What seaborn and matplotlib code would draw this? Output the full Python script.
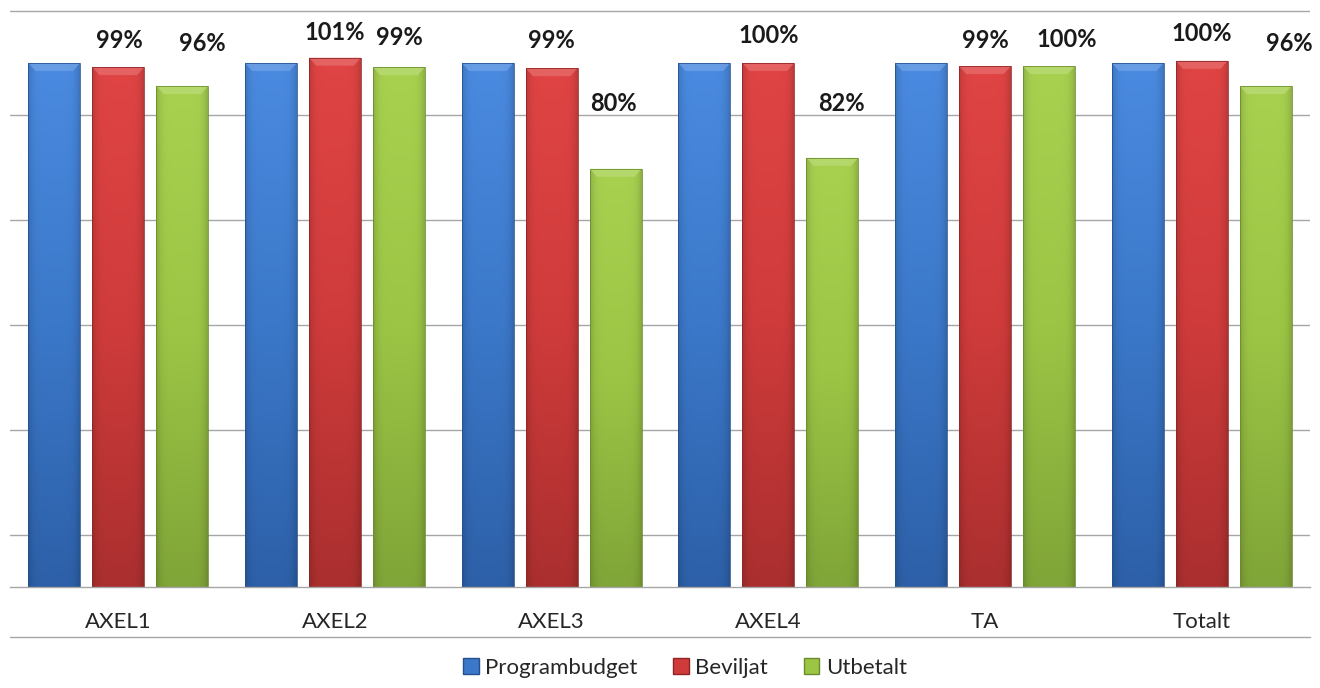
import numpy as np
import pandas as pd
import matplotlib
matplotlib.use("Agg")
import matplotlib.pyplot as plt
import seaborn as sns
from matplotlib.patches import Polygon, Patch
from matplotlib.colors import to_rgb
from matplotlib.lines import Line2D

# ---------------- data ----------------
categories = ["AXEL1", "AXEL2", "AXEL3", "AXEL4", "TA", "Totalt"]
series_names = ["Programbudget", "Beviljat", "Utbetalt"]
programbudget = [100, 100, 100, 100, 100, 100]
beviljat = [99.2, 101.0, 99.0, 100.0, 99.4, 100.4]
utbetalt = [95.6, 99.2, 79.8, 81.9, 99.4, 95.6]
beviljat_labels = ["99%", "101%", "99%", "100%", "99%", "100%"]
utbetalt_labels = ["96%", "99%", "80%", "82%", "100%", "96%"]

# ---------------- style ----------------
sns.set_theme(style="white")
plt.rcParams["font.family"] = ["Lato", "DejaVu Sans"]

base = {"Programbudget": "#3b78c9", "Beviljat": "#cf3b3b", "Utbetalt": "#9cc545"}
top_c = {"Programbudget": "#4a8ae0", "Beviljat": "#e04444", "Utbetalt": "#a8d150"}
bot_c = {"Programbudget": "#2d60a8", "Beviljat": "#ab2f2f", "Utbetalt": "#80a538"}
edge_c = {"Programbudget": "#24508e", "Beviljat": "#8e2525", "Utbetalt": "#6a8a2c"}

# manual label nudges (pixels) as placed in the original chart
bev_dx = [1, 0, 0, 0, 0, 0]
bev_dy = [27, 25, 28, 27, 26, 27]
utb_dx = [20, 0, -2, 9, 18, 24]
utb_dy = [42, 30, 65, 54, 27, 42]

df = pd.DataFrame({
    "cat": categories * 3,
    "series": sum([[s] * len(categories) for s in series_names], []),
    "val": programbudget + beviljat + utbetalt,
})

W, H = 1320, 688
fig = plt.figure(figsize=(W / 100, H / 100), dpi=100)
ax = fig.add_axes([10 / W, (H - 587) / H, 1300 / W, 577 / H])

sns.barplot(data=df, x="cat", y="val", hue="series", hue_order=series_names,
            palette=base, width=0.886, gap=0.1875, ax=ax, legend=False,
            saturation=1, errorbar=None)

ax.set_xlim(-0.5, len(categories) - 0.5)
ax.set_ylim(0, 110.1)
px_per_unit = 577 / 110.1

# gridlines
ax.set_yticks(np.arange(10, 111, 20))
ax.set_yticklabels([])
ax.yaxis.grid(True, color="#a6a6a6", lw=1)
ax.set_axisbelow(True)
ax.tick_params(axis="y", length=0)
for s in ["left", "right", "top"]:
    ax.spines[s].set_visible(False)
ax.spines["bottom"].set_color("#a6a6a6")
ax.spines["bottom"].set_linewidth(1)

# x ticks: labels at centers, marks at boundaries
ax.set_xticks(range(len(categories)))
ax.set_xticklabels(categories, fontsize=16, color="#262626")
ax.tick_params(axis="x", length=0, pad=18)
ax.set_xticks(np.arange(-0.5, len(categories)), minor=True)
ax.tick_params(axis="x", which="minor", length=6, color="#a6a6a6", width=1,
               direction="out")
ax.set_xlabel("")
ax.set_ylabel("")

# line below category labels
ax.add_line(Line2D([0, 1], [-50 / 577, -50 / 577], transform=ax.transAxes,
                   color="#a6a6a6", lw=1, clip_on=False))

# shading of bars
n = len(categories)
bars = list(ax.patches[: 3 * n])
for i, patch in enumerate(bars):
    s = series_names[i // n]
    x0, y0 = patch.get_x(), patch.get_y()
    w, h = patch.get_width(), patch.get_height()
    patch.set_edgecolor("none")
    t = np.array(to_rgb(top_c[s]))
    m = np.array(to_rgb(base[s]))
    b = np.array(to_rgb(bot_c[s]))
    N = 100
    fr = np.linspace(0, 1, N)[:, None]  # 0 = top
    col = np.where(fr < 0.5, t + (m - t) * (fr / 0.5), m + (b - m) * ((fr - 0.5) / 0.5))
    xs = np.linspace(-1, 1, 40)[None, :]
    shade = 1 - 0.15 * np.abs(xs) ** 6
    img = col[:, None, :] * shade[..., None]
    im = ax.imshow(np.clip(img, 0, 1), extent=[x0, x0 + w, y0, y0 + h],
                   origin="upper", aspect="auto", zorder=patch.get_zorder() + 0.1,
                   interpolation="bilinear")
    im.set_clip_path(patch)
    # top bevel
    bev_h = 8 / px_per_unit
    inset = w * 0.14
    top = y0 + h
    light = np.clip(t + (1 - t) * 0.22, 0, 1)
    poly = Polygon([[x0, top], [x0 + w, top], [x0 + w - inset, top - bev_h],
                    [x0 + inset, top - bev_h]], closed=True,
                   facecolor=light, edgecolor="none", alpha=0.75,
                   zorder=patch.get_zorder() + 0.2)
    ax.add_patch(poly)
    ax.add_patch(plt.Rectangle((x0, y0), w, h, fill=False, edgecolor=edge_c[s],
                               lw=0.7, alpha=0.8, zorder=patch.get_zorder() + 0.3))

ax.set_xlim(-0.5, len(categories) - 0.5)
ax.set_ylim(0, 110.1)

# value labels
bev_patches = bars[n: 2 * n]
utb_patches = bars[2 * n: 3 * n]
for i in range(n):
    for patches, labels, dxs, dys in ((bev_patches, beviljat_labels, bev_dx, bev_dy),
                                      (utb_patches, utbetalt_labels, utb_dx, utb_dy)):
        p = patches[i]
        cx = p.get_x() + p.get_width() / 2
        top = p.get_y() + p.get_height()
        ax.annotate(labels[i], xy=(cx, top), xytext=(dxs[i] * 0.72, dys[i] * 0.72),
                    textcoords="offset points", ha="center", va="center",
                    fontsize=17, fontweight="bold", color="#1a1a1a",
                    annotation_clip=False, zorder=10)

# legend
handles = [Patch(facecolor=base[s], edgecolor=edge_c[s], label=s) for s in series_names]
fig.legend(handles=handles, loc="center", bbox_to_anchor=(685 / W, 1 - 668 / H),
           ncol=3, frameon=False, fontsize=16, handlelength=0.7, handleheight=0.7,
           handletextpad=0.3, columnspacing=1.6, labelcolor="#262626")

fig.savefig("out.png", dpi=100)
